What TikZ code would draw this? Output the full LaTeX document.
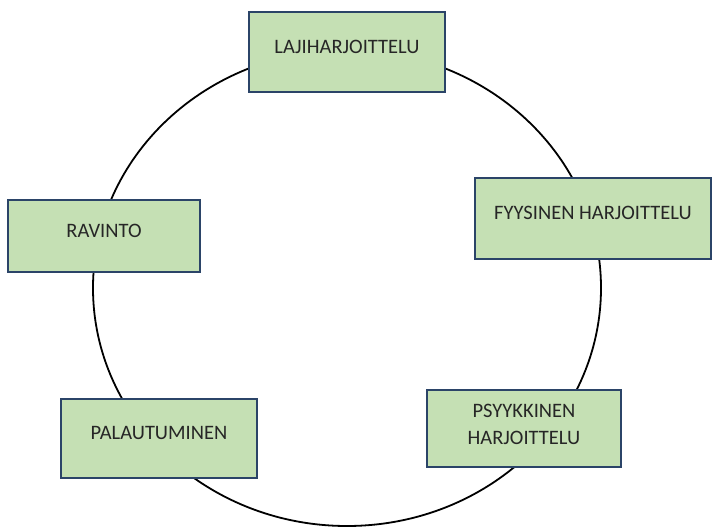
\documentclass[tikz,border=0pt]{standalone}
\usepackage{fontspec}
\setmainfont{Carlito}
\usetikzlibrary{shapes.geometric}
\definecolor{boxfill}{HTML}{C5E0B4}
\definecolor{boxline}{HTML}{2B4468}
\definecolor{boxtext}{HTML}{262626}
\tikzstyle{block} = [rectangle, draw=boxline, line width=1.8pt, fill=boxfill, text=boxtext, align=center, inner sep=0pt, font=\fontsize{20.5}{27}\selectfont, text height=14pt, text depth=11.8pt]
\tikzstyle{blockt} = [block, text height=, text depth=]
\tikzstyle{ring} = [draw, line width=1.8pt]

\begin{document}
\begin{tikzpicture}[x=1pt, y=-1pt]
\useasboundingbox (0,0) rectangle (712,527);

\draw [ring] (347,288) ellipse [x radius=254, y radius=238];

\node [block, minimum width=196pt, minimum height=80pt] (laji) at (347,52) {LAJIHARJOITTELU};
\node [block, minimum width=236pt, minimum height=81pt] (fyys) at (593,218.5) {FYYSINEN HARJOITTELU};
\node [block, minimum width=192pt, minimum height=72pt] (ravinto) at (104,236) {RAVINTO};
\node [block, minimum width=196pt, minimum height=79pt] (palau) at (159,438.5) {PALAUTUMINEN};
\node [blockt, minimum width=194pt, minimum height=77pt] (psyy) at (524,428.5) {PSYYKKINEN\\HARJOITTELU\rule[-8pt]{0pt}{8pt}};

\end{tikzpicture}
\end{document}
